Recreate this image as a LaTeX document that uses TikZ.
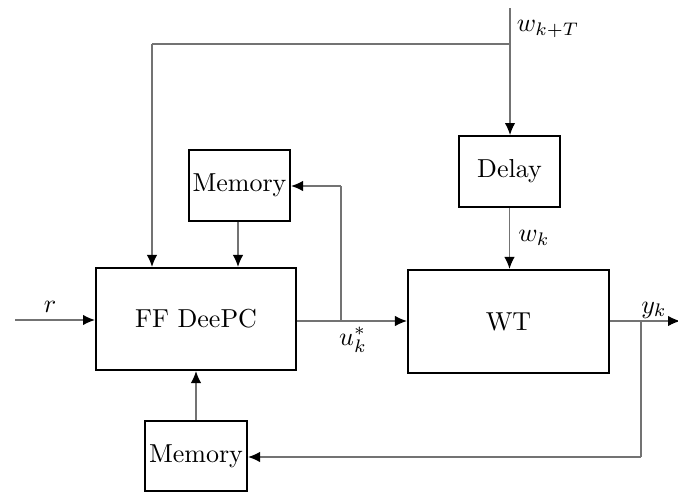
\documentclass[tikz,border=0pt]{standalone}
\usetikzlibrary{arrows.meta}
\begin{document}
\begin{tikzpicture}[x=0.385pt,y=-0.385pt,
  blk/.style={draw=black,line width=0.8pt,inner sep=0pt,align=center},
  conn/.style={draw={rgb,255:red,115;green,115;blue,115},line width=0.45pt,-{Latex[length=4.6pt,width=4pt,color=black]}},
  line/.style={draw={rgb,255:red,115;green,115;blue,115},line width=0.45pt}]
\useasboundingbox (0,0) rectangle (678,492);
\node[blk,minimum width=77pt,minimum height=39.3pt] (ff) at (196,319) {FF DeePC};
\node[blk,minimum width=77.4pt,minimum height=39.7pt] (wt) at (508.5,321.5) {WT};
\node[blk,minimum width=38.9pt,minimum height=27.3pt] (memt) at (239.5,185.5) {Memory};
\node[blk,minimum width=38.9pt,minimum height=27.3pt] (delay) at (509.5,171.5) {Delay};
\node[blk,minimum width=39.3pt,minimum height=27pt] (memb) at (196,456) {Memory};
% input r
\coordinate (rin) at (15,320);
\draw[conn] (rin) -- (rin -| ff.west);
\node (rl) at (50,307) {$r$};
% w_{k+T}
\coordinate (wtop) at (510,8);
\coordinate (wsplit) at (510,44);
\coordinate (wleft) at (152,44);
\draw[conn] (wtop) -- (wtop |- delay.north);
\draw[line] (wsplit) -- (wleft);
\draw[conn] (wleft) -- (wleft |- ff.north);
\node (wkT) at (548,29) {$w_{k+T}$};
% delay to WT
\draw[conn] (delay.south) -- (delay.south |- wt.north);
\node (wk) at (534,238) {$w_k$};
% top memory to FF
\draw[conn] (memt.south -| 238,0) -- (238,0 |- ff.north);
% u_k^*
\coordinate (ustart) at (ff.east |- 0,321);
\coordinate (usplit) at (341,321);
\coordinate (uup) at (341,186);
\draw[conn] (ustart) -- (ustart -| wt.west);
\draw[line] (usplit) -- (uup);
\draw[conn] (uup) -- (uup -| memt.east);
\node (ul) at (353,340) {$u_k^*$};
% output y_k
\coordinate (ystart) at (wt.east |- 0,321);
\coordinate (yout) at (680,321);
\coordinate (ysplit) at (641,321);
\coordinate (ydown) at (641,457);
\draw[conn] (ystart) -- (yout);
\draw[line] (ysplit) -- (ydown);
\draw[conn] (ydown) -- (ydown -| memb.east);
\node (yl) at (654,310) {$y_k$};
% bottom memory to FF
\draw[conn] (memb.north) -- (memb.north |- ff.south);
\end{tikzpicture}
\end{document}
